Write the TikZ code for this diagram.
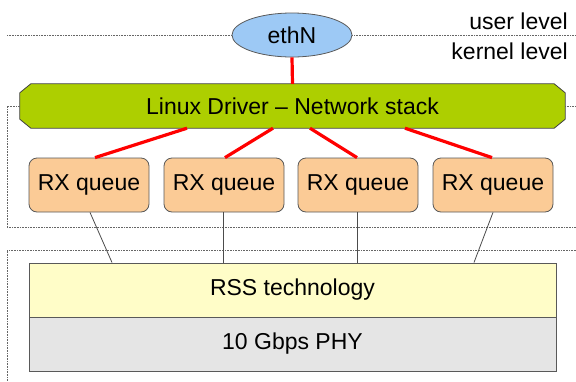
\documentclass[tikz,border=0pt]{standalone}
\usepackage{fontspec}
\setmainfont{Liberation Sans}
\usetikzlibrary{shapes.geometric,backgrounds}

\definecolor{ethblue}{HTML}{9DC9F5}
\definecolor{drvgreen}{HTML}{ADCF00}
\definecolor{rxorange}{HTML}{FBCB96}
\definecolor{rssyellow}{HTML}{FFFDC8}
\definecolor{phygray}{HTML}{E5E5E5}

\begin{document}
\begin{tikzpicture}[x=1pt,y=-1pt,
	every node/.style={font=\fontsize{23}{27}\selectfont, text=black},
	level line/.style={densely dotted, black!60, line width=0.6pt},
	rx queue/.style={draw=black!65, fill=rxorange, rounded corners=8pt, minimum width=120pt, minimum height=54pt, inner sep=0pt, line width=0.8pt},
	red link/.style={red, line width=3.2pt},
	thin link/.style={black!70, line width=0.8pt},
	layer/.style={draw=black!65, line width=1pt, minimum width=527pt, minimum height=54pt, inner sep=0pt}]
	\useasboundingbox (0,0) rectangle (576,381);
	\node[ellipse, draw=black!65, fill=ethblue, minimum width=120pt, minimum height=44pt, inner sep=0pt, line width=0.8pt] (eth) at (292,35) {ethN};
	\node[anchor=base east, inner sep=0pt] (user) at (568,29) {user level};
	\node[anchor=base east, inner sep=0pt] (kernel) at (568,59) {kernel level};
	\node[minimum width=545pt, minimum height=44pt, inner sep=0pt] (drv) at (292.5,106) {Linux Driver – Network stack};
	\begin{scope}[on background layer]
		\draw[draw=black!75, fill=drvgreen, line width=0.8pt] ([xshift=11pt]drv.north west) -- ([xshift=-11pt]drv.north east) -- ([yshift=-9pt]drv.north east) -- ([yshift=9pt]drv.south east) -- ([xshift=-11pt]drv.south east) -- ([xshift=11pt]drv.south west) -- ([yshift=9pt]drv.south west) -- ([yshift=-9pt]drv.north west) -- cycle;
	\end{scope}
	\node[rx queue] (rx1) at (89,185) {RX queue};
	\node[rx queue] (rx2) at (224,185) {RX queue};
	\node[rx queue] (rx3) at (358,185) {RX queue};
	\node[rx queue] (rx4) at (493,185) {RX queue};
	\node[layer, fill=rssyellow] (rss) at (292.5,290) {RSS technology};
	\node[layer, fill=phygray] (phy) at (292.5,344) {10 Gbps PHY};
	\draw[level line] (7,35) -- (eth.west);
	\draw[level line] (eth.east) -- (576,35);
	\draw[level line] (drv.west) -- ++(-13,0) |- (576,227);
	\draw[level line] (drv.east) -- (576,106);
	\draw[level line] (576,250) -| (7,381);
	\draw[red link] (eth.south) -- (drv.north);
	\draw[red link] ([xshift=-105.5pt]drv.south) -- ([xshift=6pt]rx1.north);
	\draw[red link] ([xshift=-19.5pt]drv.south) -- ([xshift=1pt]rx2.north);
	\draw[red link] ([xshift=17.5pt]drv.south) -- ([xshift=-1pt]rx3.north);
	\draw[red link] ([xshift=112.5pt]drv.south) -- ([xshift=-1pt]rx4.north);
	\draw[thin link] ([xshift=1pt]rx1.south) -- ([xshift=-180.5pt]rss.north);
	\draw[thin link] ([xshift=-1pt]rx2.south) -- ([xshift=-69.5pt]rss.north);
	\draw[thin link] ([xshift=-1pt]rx3.south) -- ([xshift=64.5pt]rss.north);
	\draw[thin link] (rx4.south) -- ([xshift=181.5pt]rss.north);
\end{tikzpicture}
\end{document}
